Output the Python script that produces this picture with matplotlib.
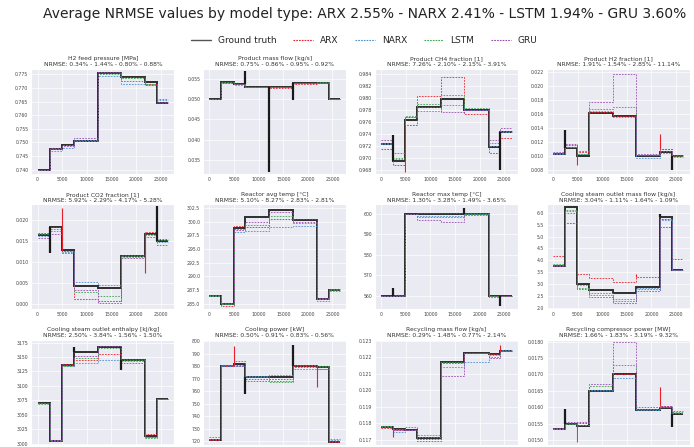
import numpy as np
import matplotlib.pyplot as plt
import seaborn as sns

sns.set_style("darkgrid")
plt.rcParams['font.family'] = ['DejaVu Sans']

# step change times of the test sequence
edges = [0, 2450, 4900, 7300, 12200, 16900, 21800, 24200, 26500]

model_names = ["ARX", "NARX", "LSTM", "GRU"]
avg_nrmse = [2.55, 2.41, 1.94, 3.60]

titles = ["H2 feed pressure [MPa]", "Product mass flow [kg/s]", "Product CH4 fraction [1]",
          "Product H2 fraction [1]", "Product CO2 fraction [1]", "Reactor avg temp [°C]",
          "Reactor max temp [°C]", "Cooling steam outlet mass flow [kg/s]",
          "Cooling steam outlet enthalpy [kJ/kg]", "Cooling power [kW]",
          "Recycling mass flow [kg/s]", "Recycling compressor power [MW]"]

nrmse = [[0.34, 1.44, 0.80, 0.88], [0.75, 0.86, 0.95, 0.92], [7.26, 2.10, 2.15, 3.91],
         [1.91, 1.54, 2.85, 11.14], [5.92, 2.29, 4.17, 5.28], [5.10, 8.27, 2.83, 2.81],
         [1.30, 3.28, 1.49, 3.65], [3.04, 1.11, 1.64, 1.09], [2.50, 3.84, 1.56, 1.50],
         [0.50, 0.91, 0.83, 0.56], [0.29, 1.48, 0.77, 2.14], [1.66, 1.83, 3.19, 9.32]]

# level of each signal in each of the 8 segments
h2_pressure = dict(
    gt=[0.7400, 0.7475, 0.7490, 0.7505, 0.7755, 0.7740, 0.7720, 0.7645],
    arx=[0.7400, 0.7475, 0.7490, 0.7505, 0.7755, 0.7740, 0.7715, 0.7645],
    narx=[0.7398, 0.7470, 0.7480, 0.7510, 0.7745, 0.7715, 0.7710, 0.7655],
    lstm=[0.7400, 0.7475, 0.7492, 0.7505, 0.7752, 0.7735, 0.7715, 0.7660],
    gru=[0.7400, 0.7478, 0.7488, 0.7515, 0.7758, 0.7725, 0.7712, 0.7650])
mass_flow = dict(
    gt=[0.0500, 0.0542, 0.0538, 0.0531, 0.0531, 0.0539, 0.0541, 0.0500],
    arx=[0.0500, 0.0540, 0.0537, 0.0530, 0.0527, 0.0538, 0.0540, 0.0500],
    narx=[0.0500, 0.0541, 0.0536, 0.0531, 0.0530, 0.0539, 0.0541, 0.0501],
    lstm=[0.0501, 0.0542, 0.0538, 0.0531, 0.0531, 0.0540, 0.0542, 0.0500],
    gru=[0.0500, 0.0541, 0.0537, 0.0530, 0.0530, 0.0539, 0.0540, 0.0500])
ch4 = dict(
    gt=[0.9722, 0.9695, 0.9763, 0.9785, 0.9797, 0.9780, 0.9718, 0.9742],
    arx=[0.9715, 0.9688, 0.9755, 0.9803, 0.9835, 0.9772, 0.9708, 0.9733],
    narx=[0.9722, 0.9697, 0.9768, 0.9778, 0.9788, 0.9780, 0.9720, 0.9742],
    lstm=[0.9725, 0.9700, 0.9770, 0.9790, 0.9805, 0.9782, 0.9725, 0.9745],
    gru=[0.9730, 0.9708, 0.9768, 0.9785, 0.9776, 0.9780, 0.9730, 0.9750])
h2_frac = dict(
    gt=[0.0104, 0.0112, 0.0101, 0.0162, 0.0157, 0.0100, 0.0106, 0.0100],
    arx=[0.0105, 0.0116, 0.0106, 0.0163, 0.0157, 0.0102, 0.0111, 0.0101],
    narx=[0.0104, 0.0113, 0.0103, 0.0165, 0.0156, 0.0098, 0.0105, 0.0099],
    lstm=[0.0105, 0.0114, 0.0103, 0.0168, 0.0170, 0.0102, 0.0108, 0.0101],
    gru=[0.0106, 0.0117, 0.0108, 0.0177, 0.0217, 0.0104, 0.0111, 0.0102])
co2 = dict(
    gt=[0.0165, 0.0183, 0.0130, 0.0043, 0.0038, 0.0115, 0.0168, 0.0150],
    arx=[0.0170, 0.0185, 0.0128, 0.0013, 0.0008, 0.0118, 0.0172, 0.0155],
    narx=[0.0163, 0.0175, 0.0125, 0.0053, 0.0045, 0.0112, 0.0165, 0.0148],
    lstm=[0.0167, 0.0178, 0.0127, 0.0030, 0.0020, 0.0114, 0.0167, 0.0152],
    gru=[0.0158, 0.0168, 0.0122, 0.0033, 0.0002, 0.0110, 0.0160, 0.0140])
avg_temp = dict(
    gt=[286.5, 285.0, 298.8, 300.8, 302.2, 300.3, 285.9, 287.5],
    arx=[286.5, 284.6, 299.2, 299.0, 300.5, 300.5, 285.9, 287.8],
    narx=[286.5, 285.0, 298.2, 298.3, 299.0, 299.3, 285.5, 287.3],
    lstm=[286.5, 284.9, 298.6, 299.5, 301.0, 299.8, 285.8, 287.6],
    gru=[286.6, 285.1, 298.5, 300.0, 301.8, 300.0, 286.0, 287.7])
max_temp = dict(
    gt=[560.0, 560.0, 600.0, 600.0, 600.0, 600.0, 560.0, 560.0],
    arx=[560.0, 560.5, 600.0, 600.5, 600.5, 600.5, 560.0, 560.0],
    narx=[560.0, 560.0, 600.0, 599.0, 599.0, 600.0, 560.0, 560.0],
    lstm=[560.0, 560.0, 600.0, 598.5, 598.5, 600.0, 560.0, 560.0],
    gru=[560.0, 560.0, 600.0, 597.0, 596.0, 599.5, 559.5, 560.0])
steam_flow = dict(
    gt=[3.75, 6.25, 3.00, 2.75, 2.65, 2.90, 5.80, 3.60],
    arx=[4.20, 5.55, 3.45, 3.25, 3.10, 3.30, 5.40, 4.05],
    narx=[3.80, 6.05, 2.95, 2.55, 2.40, 2.85, 5.70, 3.60],
    lstm=[3.85, 6.10, 2.85, 2.65, 2.30, 2.80, 5.75, 3.60],
    gru=[3.75, 6.00, 2.80, 2.45, 2.20, 2.72, 5.75, 3.60])
enthalpy = dict(
    gt=[3070, 3005, 3137, 3158, 3168, 3145, 3013, 3078],
    arx=[3070, 3007, 3138, 3145, 3155, 3147, 3016, 3077],
    narx=[3070, 3007, 3135, 3140, 3145, 3143, 3012, 3078],
    lstm=[3068, 3005, 3135, 3148, 3165, 3145, 3010, 3077],
    gru=[3070, 3006, 3136, 3152, 3170, 3140, 3012, 3078])
cool_power = dict(
    gt=[721, 780, 782, 771, 771, 780, 779, 719],
    arx=[720.5, 780, 781, 770, 770, 780, 779, 719.5],
    narx=[722, 780, 780, 772, 773, 778, 778, 721],
    lstm=[723, 781, 784, 771, 767, 781, 780, 722],
    gru=[722, 781, 780, 768, 768, 779, 778, 720])
rec_flow = dict(
    gt=[0.11775, 0.11765, 0.11760, 0.11710, 0.12170, 0.12225, 0.12222, 0.12238],
    arx=[0.11770, 0.11760, 0.11755, 0.11705, 0.12165, 0.12230, 0.12222, 0.12238],
    narx=[0.11780, 0.11745, 0.11760, 0.11730, 0.12145, 0.12175, 0.12215, 0.12245],
    lstm=[0.11785, 0.11765, 0.11775, 0.11715, 0.12170, 0.12230, 0.12205, 0.12240],
    gru=[0.11775, 0.11760, 0.11760, 0.11690, 0.12085, 0.12225, 0.12195, 0.12240])
rec_power = dict(
    gt=[0.01532, 0.01548, 0.01542, 0.01648, 0.01700, 0.01592, 0.01597, 0.01580],
    arx=[0.01532, 0.01552, 0.01552, 0.01650, 0.01700, 0.01595, 0.01603, 0.01582],
    narx=[0.01532, 0.01550, 0.01545, 0.01652, 0.01688, 0.01592, 0.01600, 0.01583],
    lstm=[0.01533, 0.01550, 0.01545, 0.01665, 0.01728, 0.01595, 0.01600, 0.01585],
    gru=[0.01535, 0.01555, 0.01555, 0.01670, 0.01800, 0.01600, 0.01605, 0.01588])

panels = [h2_pressure, mass_flow, ch4, h2_frac, co2, avg_temp, max_temp, steam_flow,
          enthalpy, cool_power, rec_flow, rec_power]

# transient spikes: (series, time, peak value)
spikes = [
    [],
    [("gt", 7250, 0.0570), ("gt", 12150, 0.0320), ("gt", 16900, 0.0497)],
    [("gt", 2450, 0.9737), ("arx", 4900, 0.9676), ("gt", 24200, 0.9679)],
    [("gt", 2450, 0.0137), ("arx", 4900, 0.0088), ("arx", 21800, 0.0132), ("gt", 24200, 0.0081)],
    [("gt", 2450, 0.0122), ("arx", 4900, 0.0228), ("arx", 21800, 0.0075), ("gt", 24200, 0.0233)],
    [],
    [("gt", 2450, 564.0), ("gt", 16900, 602.5), ("gt", 24200, 555.0)],
    [("gt", 21800, 5.95), ("arx", 16900, 3.45)],
    [("gt", 7300, 3168), ("gt", 16900, 3128)],
    [("arx", 4900, 796), ("gt", 7300, 758), ("gt", 16900, 797), ("arx", 21800, 763)],
    [("arx", 2450, 0.11715), ("arx", 24200, 0.12275)],
    [("gt", 2450, 0.01595), ("gru", 4900, 0.01492), ("arx", 21800, 0.01662), ("gt", 24200, 0.01538)],
]

ylims = [(0.7385, 0.7770), (0.0315, 0.0575), (0.9673, 0.9848), (0.0075, 0.0225),
         (-0.0012, 0.0238), (284.0, 303.2), (553.5, 604.5), (1.95, 6.35),
         (2998, 3180), (717, 801), (0.11668, 0.12308), (0.01485, 0.01806)]
yticks = [np.arange(0.740, 0.7751, 0.005), np.arange(0.035, 0.0551, 0.005),
          np.arange(0.968, 0.9841, 0.002), np.arange(0.008, 0.0221, 0.002),
          np.arange(0.0, 0.0201, 0.005), np.arange(285.0, 302.6, 2.5),
          np.arange(560, 601, 10), np.arange(2.0, 6.01, 0.5),
          np.arange(3000, 3176, 25), np.arange(720, 801, 10),
          np.arange(0.117, 0.12301, 0.001), np.arange(0.0150, 0.01801, 0.0005)]
ytick_fmt = ["%.3f", "%.3f", "%.3f", "%.3f", "%.3f", "%.1f", "%d", "%.1f", "%d", "%d", "%.3f", "%.4f"]

styles = {
    "gt": dict(color="#1a1a1a", lw=1.4, ls="-", label="Ground truth"),
    "arx": dict(color="#e8202a", lw=0.6, ls=(0, (2, 1.5)), label="ARX"),
    "narx": dict(color="#4a90d0", lw=0.6, ls=(0, (2, 1.5)), label="NARX"),
    "lstm": dict(color="#3aa64a", lw=0.6, ls=(0, (2, 1.5)), label="LSTM"),
    "gru": dict(color="#9a4ab0", lw=0.6, ls=(0, (2, 1.5)), label="GRU"),
}

fig, axes = plt.subplots(3, 4, figsize=(6.94, 4.47), dpi=100)
fig.subplots_adjust(left=0.045, right=0.994, top=0.846, bottom=0.005, wspace=0.2, hspace=0.29)

for i, ax in enumerate(axes.flat):
    data = panels[i]
    for key in ["gt", "arx", "narx", "lstm", "gru"]:
        st = styles[key]
        ax.stairs(data[key], edges, baseline=None, color=st["color"], lw=st["lw"],
                  ls=st["ls"], label=st["label"], alpha=0.9 if key == "gt" else 1.0)
    for key, t, peak in spikes[i]:
        seg = np.searchsorted(edges, t, side="right") - 1
        base = data[key][min(seg, 7)]
        st = styles[key]
        ax.vlines(t, base, peak, color=st["color"], lw=st["lw"] + 0.2)
    ax.set_xlim(-1300, 27800)
    ax.set_ylim(*ylims[i])
    ax.set_yticks(yticks[i])
    ax.yaxis.set_major_formatter(plt.FormatStrFormatter(ytick_fmt[i]))
    ax.set_xticks([0, 5000, 10000, 15000, 20000, 25000])
    ax.tick_params(labelsize=3.3, length=0, pad=2, labelcolor="#444444")
    ax.grid(color="white", lw=0.5)
    ax.set_title(titles[i] + "\nNRMSE: " + " - ".join("%.2f%%" % v for v in nrmse[i]),
                 fontsize=4.3, pad=2, color="#333333", linespacing=1.15)

fig.suptitle("Average NRMSE values by model type: " +
             " - ".join("%s %.2f%%" % (m, v) for m, v in zip(model_names, avg_nrmse)),
             fontsize=10.0, x=0.525, y=0.985, color="#222222")

handles, labels = axes.flat[0].get_legend_handles_labels()
leg_handles = [plt.Line2D([], [], color=styles[k]["color"], lw=1.0 if k == "gt" else 0.8,
                          ls="-" if k == "gt" else (0, (1.5, 1)))
               for k in ["gt", "arx", "narx", "lstm", "gru"]]
leg_handles[0].set_color("#555555")
fig.legend(leg_handles, labels, loc="center", bbox_to_anchor=(0.525, 0.91), ncol=5,
           frameon=False, fontsize=6.5, handlelength=2.2, columnspacing=1.8, handletextpad=0.8)

fig.savefig("out.png", dpi=100)
